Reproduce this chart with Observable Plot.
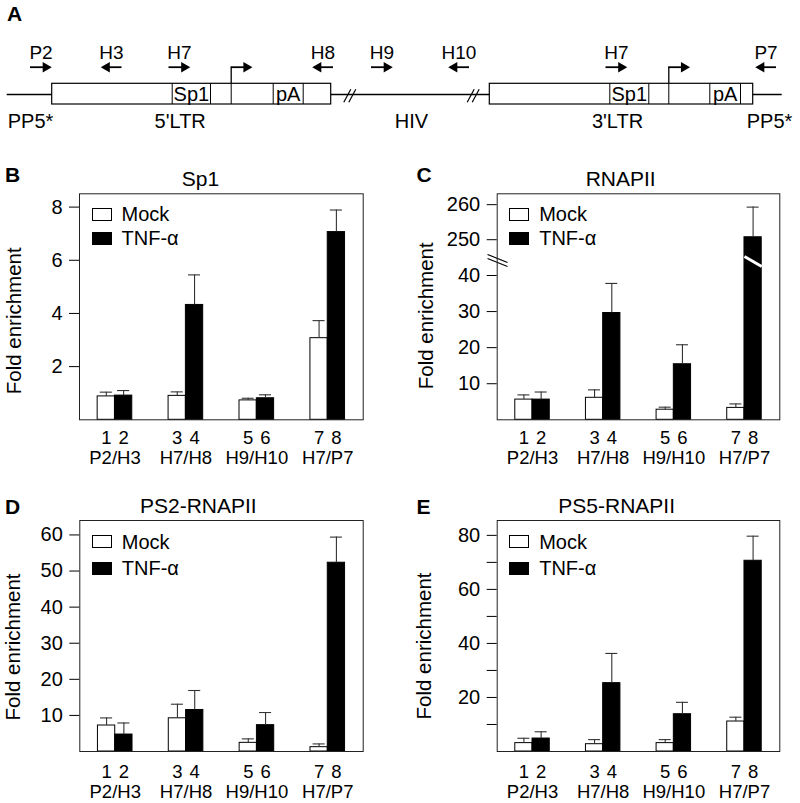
<!DOCTYPE html>
<html><head><meta charset="utf-8">
<script src="https://cdn.jsdelivr.net/npm/d3@7"></script>
<script src="https://cdn.jsdelivr.net/npm/@observablehq/plot@0.6"></script>
<style>
html,body{margin:0;padding:0;background:#fff;}
#fig{position:relative;width:800px;height:803px;font-family:"Liberation Sans",Arial,Helvetica,sans-serif;color:#000;overflow:hidden;background:#fff}
.abs{position:absolute;white-space:nowrap;line-height:1}
.letter{font-weight:bold;font-size:21px}
.title{font-size:21px;transform:translateX(-50%)}
.legrow{position:absolute;display:flex;align-items:center;height:20px;font-size:20px;line-height:1;white-space:nowrap}
.sw{width:20px;height:13px;box-sizing:border-box;border:1px solid #000;margin-right:10px}
.panel{position:absolute}
</style></head><body><div id="fig"></div>
<script>
const fig = document.getElementById("fig");
const FONT = '"Liberation Sans", Arial, Helvetica, sans-serif';

// ---------------- Panel A (map, in diagram units) ----------------
const primerLabels = ["P2","H3","H7","H8","H9","H10","H7","P7"];
const primerPos = [40.5, 111, 179, 322.5, 381.5, 458.5, 616, 765.5];
const primerDir = [1,-1,1,-1,1,-1,1,-1];
const ltrStart = [51.7, 489.3];
const ltrEnd = [330.7, 752.7];
const sp1Start = [171.7, 609.3];
const sp1End = [210, 648.3];
const tssPos = [230.7, 668.3];
const pAStart = [272.7, 709.3];
const pAEnd = [302.7, 740];
const breakPos = [343.3, 466.7];
const backboneExtent = [6.7, 781.7];
const regionLabels = ["PP5*","5'LTR","HIV","3'LTR","PP5*"];
const regionPos = [30, 179.7, 411, 617, 769];

// ---------------- Bar charts ----------------
const groups = ["P2/H3","H7/H8","H9/H10","H7/P7"];
const barNumbers = ["1","2","3","4","5","6","7","8"];
const series = ["Mock","TNF-α"];
const sp1Mock    = [0.88, 0.90, 0.73, 3.07];
const sp1MockErr = [1.04, 1.05, 0.81, 3.73];
const sp1Tnf     = [0.91, 4.32, 0.81, 7.06];
const sp1TnfErr  = [1.10, 5.45, 0.94, 7.89];
const rnapMock    = [5.6, 6.1, 2.8, 3.3];
const rnapMockErr = [6.9, 8.3, 3.5, 4.4];
const rnapTnf     = [5.6, 29.6, 15.4, 250.7];
const rnapTnfErr  = [7.7, 37.8, 20.8, 259.3];
const ps2Mock    = [7.2, 9.2, 2.4, 1.2];
const ps2MockErr = [9.3, 13.1, 3.5, 2.1];
const ps2Tnf     = [4.7, 11.5, 7.3, 52.3];
const ps2TnfErr  = [7.9, 16.9, 10.8, 59.4];
const ps5Mock    = [3.1, 2.7, 3.1, 11.1];
const ps5MockErr = [4.9, 4.4, 4.4, 12.7];
const ps5Tnf     = [4.8, 25.3, 13.8, 70.6];
const ps5TnfErr  = [7.3, 36.3, 18.2, 79.7];
const sp1Ticks  = [2,4,6,8];
const rnapTicks = [10,20,30,40,250,260];
const ps2Ticks  = [10,20,30,40,50,60];
const ps5Ticks  = [10,20,30,40,50,60,70,80];
const rnapBreak = [43.6, 243.5];   // top of lower segment, bottom of upper segment

// ---------------- helpers ----------------
function place(el, left, top) {
  const d = document.createElement("div");
  d.className = "panel";
  d.style.left = left + "px"; d.style.top = top + "px";
  d.appendChild(el); fig.appendChild(d);
}
function addText(cls, txt, left, top) {
  const d = document.createElement("div");
  d.className = "abs " + cls;
  d.style.left = left + "px"; d.style.top = top + "px";
  d.textContent = txt; fig.appendChild(d);
}

// ---------------- Panel A ----------------
const LTR_TOP = 83.3, LTR_BOTTOM = 104, BACKBONE_Y = 94, PRIMER_Y = 66.7;
const primers = primerLabels.map((label, i) => ({label, c: primerPos[i], dir: primerDir[i]}));
const ltrs = ltrStart.map((s, i) => ({start: s, end: ltrEnd[i], sp1s: sp1Start[i], sp1e: sp1End[i], tss: tssPos[i], pAs: pAStart[i], pAe: pAEnd[i]}));
const dividers = ltrs.flatMap(d => [d.sp1s, d.sp1e, d.tss, d.pAs, d.pAe]);
const HALF = 10.5, TIP = 5.8;
const arrows = [
  ...primers.map(p => ({tail: p.c - HALF * p.dir, tip: p.c + HALF * p.dir, dir: p.dir})),
  ...ltrs.map(l => ({tail: l.tss, tip: l.tss + 2 * HALF, dir: 1}))
];
const slashes = breakPos.flatMap(b => [0, 5].map(o => ({x1: b + o, x2: b + o + 7})));
const boxLabels = ltrs.flatMap(l => [{t: "Sp1", x: (l.sp1s + l.sp1e) / 2}, {t: "pA", x: (l.pAs + l.pAe) / 2}]);

const diagram = Plot.plot({
  width: 800, height: 140, margin: 0,
  x: {domain: [0, 800], range: [0, 800], axis: null},
  y: {domain: [0, 140], range: [0, 140], axis: null},
  style: {fontFamily: FONT, color: "#000", background: "transparent"},
  marks: [
    Plot.ruleY([0], {y: () => BACKBONE_Y, x1: () => backboneExtent[0], x2: () => backboneExtent[1], stroke: "#000", strokeWidth: 1.3}),
    Plot.link(slashes, {x1: "x1", x2: "x2", y1: () => 101.7, y2: () => 88.7, stroke: "#000", strokeWidth: 1.2}),
    Plot.rect(ltrs, {x1: "start", x2: "end", y1: () => LTR_TOP, y2: () => LTR_BOTTOM, fill: "#fff", stroke: "#000", strokeWidth: 1.2}),
    Plot.ruleX(dividers, {x: d => d, y1: () => LTR_TOP, y2: () => LTR_BOTTOM, stroke: "#000", strokeWidth: 1}),
    Plot.ruleX(ltrs, {x: "tss", y1: () => PRIMER_Y, y2: () => LTR_TOP, stroke: "#000", strokeWidth: 1.3}),
    Plot.ruleY(arrows, {y: () => PRIMER_Y, x1: "tail", x2: d => d.tip - 5 * d.dir, stroke: "#000", strokeWidth: 1.8}),
    Plot.dot(arrows, {x: d => d.tip - TIP * d.dir, y: () => PRIMER_Y, symbol: "triangle", r: 3.9, rotate: d => d.dir * 90, fill: "#000", stroke: "none"}),
    Plot.text(primers, {x: "c", y: () => 52.4, text: "label", fontSize: 19}),
    Plot.text(boxLabels, {x: "x", y: () => 93.6, text: "t", fontSize: 20}),
    Plot.text(regionLabels, {x: (d, i) => regionPos[i], y: () => 120.6, text: d => d, fontSize: 20})
  ]
});
place(diagram, 0, 0);

// ---------------- Bar panels ----------------
const BAR_W = 0.244, CAP = 0.085;
function barPanel(p) {
  const rows = [];
  groups.forEach((g, gi) => series.forEach((s, si) => {
    const x1 = gi + 0.5 - BAR_W + si * BAR_W;
    rows.push({group: g, series: s, si, num: barNumbers[gi * 2 + si],
      value: p.values[si][gi], errTop: p.errTops[si][gi], x1, x2: x1 + BAR_W, xc: x1 + BAR_W / 2});
  }));
  const marks = [
    Plot.rect(rows.filter(d => d.si === 0), {x1: "x1", x2: "x2", y1: () => 0, y2: "value", fill: "#fff", stroke: "#000", strokeWidth: 1}),
    Plot.rect(rows.filter(d => d.si === 1), {x1: "x1", x2: "x2", y1: () => 0, y2: "value", fill: "#000", stroke: "#000", strokeWidth: 1}),
    Plot.ruleX(rows, {x: "xc", y1: "value", y2: "errTop", stroke: "#333", strokeWidth: 1.1}),
    Plot.ruleY(rows, {y: "errTop", x1: d => d.xc - CAP, x2: d => d.xc + CAP, stroke: "#333", strokeWidth: 1.1}),
    ...(p.extra ? p.extra(rows) : []),
    Plot.frame({stroke: "#222", strokeWidth: 1}),
    Plot.axisY({ticks: p.ticks, tickFormat: p.tickFormat || (d => String(d)), tickSize: 10, tickPadding: 7, fontSize: 20, label: null, stroke: "#000"}),
    Plot.text(rows, {x: "xc", text: "num", frameAnchor: "bottom", lineAnchor: "middle", dy: p.numDy, fontSize: 18.5}),
    Plot.text(groups, {x: (d, i) => i + 0.5, text: d => d, frameAnchor: "bottom", lineAnchor: "middle", dy: p.grpDy, fontSize: 18.5}),
    Plot.text(["Fold enrichment"], {frameAnchor: "left", textAnchor: "middle", lineAnchor: "middle", text: d => d, rotate: -90, dx: p.labDx, dy: p.labDy, fontSize: 20.5})
  ];
  const yopt = {type: "linear", domain: p.domain};
  if (p.range) yopt.range = p.range;
  const chart = Plot.plot({
    width: 400, height: p.height,
    marginLeft: p.ml, marginRight: p.mr, marginTop: p.mt, marginBottom: p.mb,
    x: {type: "linear", domain: [0, 4], axis: null},
    y: yopt,
    style: {fontFamily: FONT, color: "#000", background: "transparent", overflow: "visible"},
    marks
  });
  place(chart, p.left, p.top);
  // legend (inside plot, top-left)
  const lx = p.left + p.ml + 12.5;
  series.forEach((s, si) => {
    const row = document.createElement("div");
    row.className = "legrow";
    row.style.left = lx + "px";
    row.style.top = (p.top + p.mt + p.legRows[si] - 10) + "px";
    const sw = document.createElement("span");
    sw.className = "sw"; sw.style.background = si ? "#000" : "#fff";
    const tx = document.createElement("span"); tx.textContent = s;
    row.appendChild(sw); row.appendChild(tx); fig.appendChild(row);
  });
}

barPanel({left: 0, top: 160, height: 310, ml: 79, mr: 37.3, mt: 33.3, mb: 50.7,
  values: [sp1Mock, sp1Tnf], errTops: [sp1MockErr, sp1TnfErr], domain: [0, 8.5], ticks: sp1Ticks,
  numDy: 18, grpDy: 38.5, labDx: -65, labDy: 14, legRows: [20.7, 45]});

barPanel({left: 400, top: 160, height: 310, ml: 96.7, mr: 20.7, mt: 33.3, mb: 50.7,
  values: [rnapMock, rnapTnf], errTops: [rnapMockErr, rnapTnfErr],
  domain: [0, rnapBreak[0], rnapBreak[1], 263.1], range: [259.3, 102, 102, 33.3], ticks: rnapTicks,
  numDy: 18, grpDy: 38.5, labDx: -70.7, labDy: 9, legRows: [20.7, 45],
  extra: rows => {
    const last = rows[rows.length - 1];
    const lo = rnapBreak[0], hi = rnapBreak[1];
    return [
      Plot.link([last], {x1: "x1", x2: "x2", y1: () => hi + 1.7, y2: () => lo - 1.1, stroke: "#fff", strokeWidth: 3}),
      Plot.link([0, 1], {x1: () => -0.137, x2: () => 0.146, y1: (d) => hi + 2.3 - d * 1.15, y2: (d) => d ? lo - 1.1 : lo, stroke: "#000", strokeWidth: 1.1})
    ];
  }});

barPanel({left: 0, top: 470, height: 333, ml: 79.3, mr: 37.3, mt: 50, mb: 52,
  values: [ps2Mock, ps2Tnf], errTops: [ps2MockErr, ps2TnfErr], domain: [0, 64], ticks: ps2Ticks,
  numDy: 20.5, grpDy: 40.5, labDx: -66.8, labDy: 11, legRows: [21.7, 48]});

barPanel({left: 400, top: 470, height: 333, ml: 96.7, mr: 20.7, mt: 50, mb: 52,
  values: [ps5Mock, ps5Tnf], errTops: [ps5MockErr, ps5TnfErr], domain: [0, 85.5], ticks: ps5Ticks,
  tickFormat: d => (d % 20 === 0 ? String(d) : ""),
  numDy: 20.5, grpDy: 40.5, labDx: -72.5, labDy: 10, legRows: [21.7, 48]});

// ---------------- panel letters and titles ----------------
addText("letter", "A", 7, 3.2);
addText("letter", "B", 5, 164);
addText("letter", "C", 416.5, 163.5);
addText("letter", "D", 5, 495.5);
addText("letter", "E", 416.5, 495.5);
addText("title", "Sp1", 200.5, 168.2);
addText("title", "RNAPII", 620.7, 168.2);
addText("title", "PS2-RNAPII", 198.3, 495.2);
addText("title", "PS5-RNAPII", 616.7, 495.2);
</script></body></html>
